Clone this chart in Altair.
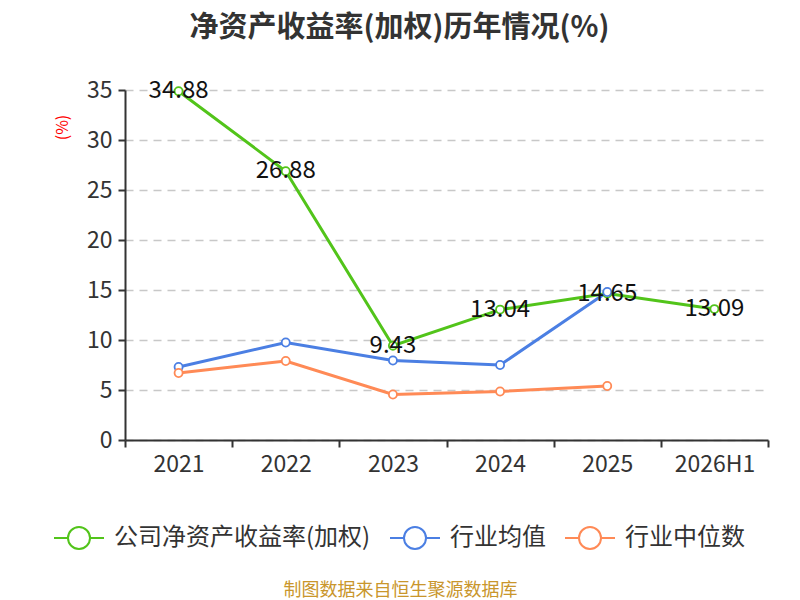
import altair as alt
import pandas as pd

years = ["2021", "2022", "2023", "2024", "2025", "2026H1"]
series_names = ["公司净资产收益率(加权)", "行业均值", "行业中位数"]
company = [34.88, 26.88, 9.43, 13.04, 14.65, 13.09]
industry_avg = [7.3, 9.75, 7.95, 7.5, 14.8]
industry_med = [6.7, 7.9, 4.55, 4.85, 5.4]
colors = ["#52c41a", "#4b7fe3", "#ff8a56"]

rows = []
for vals, name in zip([company, industry_avg, industry_med], series_names):
    for y, v in zip(years, vals):
        rows.append({"year": y, "value": v, "series": name})
df = pd.DataFrame(rows)
df_label = df[df["series"] == series_names[0]]

FONT = "Noto Sans CJK SC"
legend_path = "M-1,0L-0.44,0M0.44,0L1,0M0.44,0A0.44,0.44,0,1,1,-0.44,0A0.44,0.44,0,1,1,0.44,0"

x_enc = alt.X(
    "year:N",
    sort=years,
    bandPosition=0.5,
    scale=alt.Scale(type="band", domain=years, paddingInner=0, paddingOuter=0),
    axis=alt.Axis(
        title="制图数据来自恒生聚源数据库",
        titleColor="#c9962c",
        titleFont=FONT,
        titleFontSize=18,
        titleFontWeight="normal",
        titleX=275,
        titleY=150,
        titleAnchor="start",
        titleAlign="center",
        titleBaseline="middle",
        labelAngle=0,
        labelFont=FONT,
        labelFontSize=23,
        labelColor="#333333",
        labelPadding=6,
        tickBand="extent",
        tickSize=7,
        tickColor="#333333",
        tickWidth=2,
        domainColor="#333333",
        domainWidth=2,
        grid=False,
    ),
)
y_enc = alt.Y(
    "value:Q",
    scale=alt.Scale(domain=[0, 35], nice=False),
    axis=alt.Axis(
        values=[0, 5, 10, 15, 20, 25, 30, 35],
        title="(%)",
        titleColor="red",
        titleFont=FONT,
        titleFontSize=16,
        titleFontWeight="normal",
        titleX=-63,
        titleY=37,
        titleAlign="center",
        titleBaseline="middle",
        labelFont=FONT,
        labelFontSize=23,
        labelColor="#333333",
        labelPadding=6,
        tickSize=7,
        tickColor="#333333",
        tickWidth=2,
        domainColor="#333333",
        domainWidth=2,
        grid=True,
        gridColor="#c8c8c8",
        gridDash=[8, 6],
        gridWidth=1.5,
    ),
)
color_scale = alt.Scale(domain=series_names, range=colors)
color_enc = alt.Color(
    "series:N",
    sort=series_names,
    scale=color_scale,
    legend=alt.Legend(
        title=None,
        orient="none",
        direction="horizontal",
        legendX=-72,
        legendY=422,
        symbolType=legend_path,
        symbolSize=2500,
        symbolStrokeWidth=2,
        symbolFillColor="white",
        labelFont=FONT,
        labelFontSize=24,
        labelColor="#333333",
        labelOffset=9,
        columnPadding=15,
        labelLimit=400,
    ),
)

base = alt.Chart(df).encode(x=x_enc, y=y_enc)
lines = base.mark_line(strokeWidth=3).encode(color=color_enc)
points = base.mark_point(filled=True, fill="white", size=65, strokeWidth=1.8, opacity=1).encode(
    stroke=alt.Stroke("series:N", sort=series_names, scale=color_scale, legend=None)
)
labels = alt.Chart(df_label).mark_text(
    font=FONT, fontSize=24, color="#111111", align="center", baseline="middle"
).encode(x=x_enc, y=y_enc, text=alt.Text("value:Q", format=".2f"))

chart = (
    alt.layer(lines, points, labels)
    .properties(
        width=643,
        height=350,
        padding={"left": 117, "top": 82, "right": 24, "bottom": 160},
        autosize=alt.AutoSizeParams(type="none"),
        title=alt.TitleParams(
            "净资产收益率(加权)历年情况(%)",
            font=FONT,
            fontSize=29,
            fontWeight="bold",
            color="#333333",
            anchor="middle",
            frame="group",
            dx=-47,
            offset=36,
        ),
    )
    .configure_view(stroke=None)
)

chart.save("out.html", embed_options={"renderer": "svg", "actions": False})
